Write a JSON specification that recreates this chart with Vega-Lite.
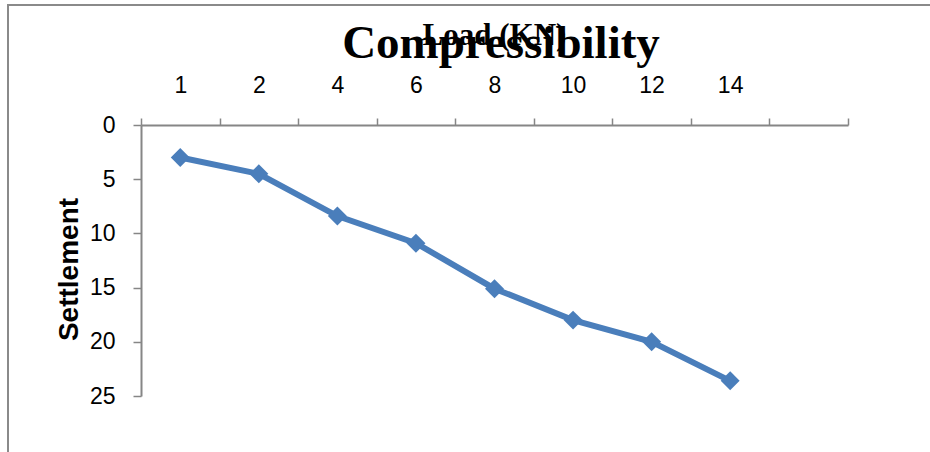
{
  "$schema": "https://vega.github.io/schema/vega-lite/v6.json",
  "width": 930,
  "height": 460,
  "autosize": {"type": "none"},
  "padding": {"left": 8, "top": 5, "right": 0, "bottom": 0},
  "background": "white",
  "title": {
    "text": "Compressibility",
    "font": "Liberation Serif",
    "fontSize": 47,
    "fontWeight": "bold",
    "color": "black",
    "anchor": "middle",
    "frame": "group",
    "offset": -100,
    "baseline": "alphabetic",
    "dx": 28
  },
  "config": {"view": {"stroke": "#8a8a8a", "strokeWidth": 2}},
  "data": {
    "values": [
      {"Load": "1", "Settlement": 3.0},
      {"Load": "2", "Settlement": 4.5},
      {"Load": "4", "Settlement": 8.4},
      {"Load": "6", "Settlement": 10.9},
      {"Load": "8", "Settlement": 15.1},
      {"Load": "10", "Settlement": 18.0},
      {"Load": "12", "Settlement": 20.0},
      {"Load": "14", "Settlement": 23.6}
    ]
  },
  "mark": {
    "type": "line",
    "color": "#4a7ebb",
    "strokeWidth": 6,
    "point": {"filled": true, "shape": "diamond", "size": 360, "color": "#4a7ebb", "opacity": 1}
  },
  "encoding": {
    "x": {
      "field": "Load",
      "type": "nominal",
      "bandPosition": 0.5,
      "scale": {
        "type": "band",
        "domain": ["1", "2", "4", "6", "8", "10", "12", "14", " "],
        "range": [133, 840],
        "paddingInner": 0,
        "paddingOuter": 0
      },
      "axis": {
        "orient": "top",
        "offset": -120,
        "title": "Load (KN)",
        "titleFont": "Liberation Serif",
        "titleFontSize": 31,
        "titleFontWeight": "bold",
        "titleColor": "black",
        "titleX": 486,
        "titleY": -81,
        "titleBaseline": "alphabetic",
        "titleAlign": "center",
        "labelAngle": 0,
        "labelFont": "Liberation Sans",
        "labelFontSize": 23,
        "labelColor": "black",
        "labelPadding": 26,
        "labelBaseline": "alphabetic",
        "labelExpr": "datum.value == ' ' ? '' : datum.label",
        "tickSize": 7,
        "tickBand": "extent",
        "tickColor": "#868686",
        "tickWidth": 1.5,
        "domainColor": "#868686",
        "domainWidth": 2,
        "grid": false
      }
    },
    "y": {
      "field": "Settlement",
      "type": "quantitative",
      "scale": {"domain": [0, 25], "range": [120, 391], "nice": false, "zero": false},
      "axis": {
        "orient": "left",
        "offset": -133,
        "values": [0, 5, 10, 15, 20, 25],
        "title": "Settlement",
        "titleFont": "Liberation Sans",
        "titleFontSize": 28,
        "titleFontWeight": "bold",
        "titleColor": "black",
        "titleAngle": -90,
        "titleX": -64,
        "titleY": 264,
        "titleBaseline": "alphabetic",
        "titleAlign": "center",
        "labelFont": "Liberation Sans",
        "labelFontSize": 23,
        "labelColor": "black",
        "labelPadding": 18,
        "labelBaseline": "middle",
        "tickSize": 8,
        "tickColor": "#868686",
        "tickWidth": 1.5,
        "domainColor": "#868686",
        "domainWidth": 2,
        "grid": false
      }
    }
  }
}
